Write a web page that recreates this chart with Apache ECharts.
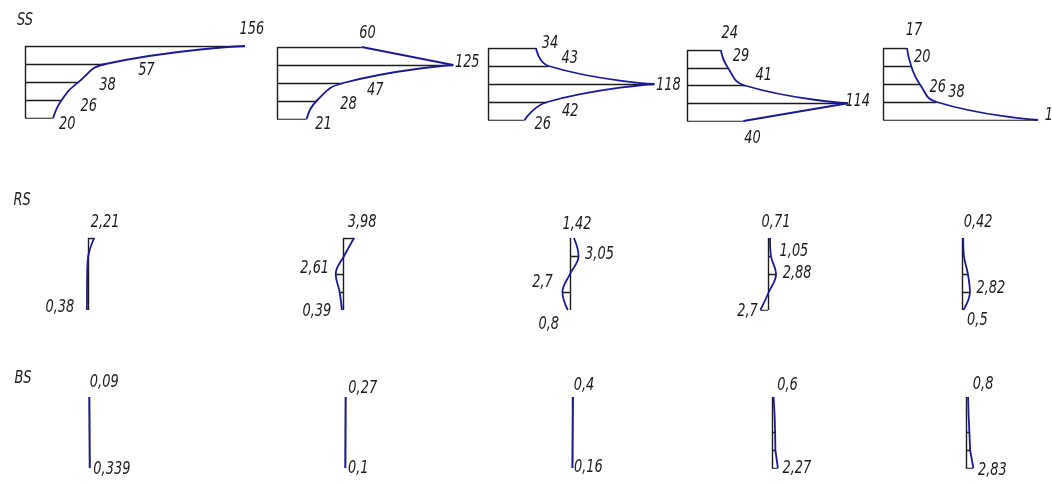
<!DOCTYPE html>
<html>
<head>
<meta charset="utf-8">
<script src="https://cdn.jsdelivr.net/npm/echarts@6/dist/echarts.min.js"></script>
<style>
  html, body { margin: 0; padding: 0; background: #ffffff; }
  #chart { width: 1052px; height: 485px; }
</style>
</head>
<body>
<div id="chart"></div>
<script>
// Five sections, each profile sampled at five depth levels (0 = top, 4 = bottom)
const levels = [0, 1, 2, 3, 4];

// SS profiles
const ssValues = [
  [156, 57, 38, 26, 20],
  [60, 125, 47, 28, 21],
  [34, 43, 118, 42, 26],
  [24, 29, 41, 114, 40],
  [17, 20, 26, 38, 110]
];
// RS profiles (negative = drawn to the left of the axis)
const rsValues = [
  [2.21, 0.1, -0.3, -0.35, -0.38],
  [3.98, 0.4, -2.61, -1.2, -0.39],
  [1.42, 3.05, 0, -2.7, -0.8],
  [0.71, 1.05, 2.88, 0.3, -2.7],
  [0.42, 0.7, 2.1, 2.82, 0.5]
];
// BS profiles (null = level not sampled)
const bsValues = [
  [0.09, null, null, null, 0.339],
  [0.27, null, null, null, 0.1],
  [0.4, null, null, null, 0.16],
  [0.6, 1.0, 1.2, 1.3, 2.27],
  [0.8, 1.0, 1.3, 1.6, 2.83]
];

// Levels whose value is written next to the profile
const ssLabelled = [[0, 1, 2, 3, 4], [0, 1, 2, 3, 4], [0, 1, 2, 3, 4], [0, 1, 2, 3, 4], [0, 1, 2, 3, 4]];
const rsLabelled = [[0, 4], [0, 2, 4], [0, 1, 3, 4], [0, 1, 2, 4], [0, 3, 4]];
const bsLabelled = [[0, 4], [0, 4], [0, 4], [0, 4], [0, 4]];

// Levels that get a black ordinate line
const ssTicks = [[0, 1, 2, 3, 4], [0, 1, 2, 3, 4], [0, 1, 2, 3, 4], [0, 1, 2, 3, 4], [0, 1, 2, 3, 4]];
const rsTicks = [[0], [0, 2, 3], [1, 3], [1, 2, 4], [2, 3]];
const bsTicks = [[], [], [], [2, 3, 4], [2, 3, 4]];

const rowTitles = ['SS', 'RS', 'BS'];

// ---- layout ----
const FONT = 'italic 18px "Liberation Sans Narrow", "DejaVu Sans Condensed", "Arial Narrow", sans-serif';
const TEXT_SQUEEZE = 0.8;
const BLUE = '#1a1a96';
const INK = '#1c1c1c';

const rows = [
  {
    values: ssValues, labelled: ssLabelled, ticks: ssTicks, split: true, smooth: 0.5, symmetric: false,
    axisX: [25, 277, 488, 687, 883], top: [46, 47, 48, 50, 48], height: [72, 72, 72, 71, 72],
    scale: 1.41,
    offsets: [
      [[7, -17], [41, 6], [29, 3], [27, 6], [14, 6]],
      [[6, -14], [14, -3], [32, 7], [32, 3], [17, 5]],
      [[14, -5], [21, -8], [14, 1], [23, 9], [18, 4]],
      [[9, -17], [13, -11], [19, -10], [10, -2], [9, 17]],
      [[7, -18], [11, -9], [18, 3], [20, -10], [19, -5]]
    ],
    title: [25, 20]
  },
  {
    values: rsValues, labelled: rsLabelled, ticks: rsTicks, split: false, smooth: 0.4, symmetric: true,
    axisX: [88, 343, 570, 768, 962], top: [238, 238, 238, 238, 238], height: [72, 72, 72, 72, 72],
    scale: 2.8,
    offsets: [
      [[11, -16], [-27, -3]],
      [[8, -16], [-21, -6], [-25, 1]],
      [[3, -14], [21, -2], [-20, -10], [-19, 14]],
      [[6, -16], [23, -5], [21, -1], [-13, 1]],
      [[15, -16], [21, -4], [14, 10]]
    ],
    title: [22, 200]
  },
  {
    values: bsValues, labelled: bsLabelled, ticks: bsTicks, split: false, smooth: false, symmetric: true,
    axisX: [89, 345, 572, 772, 966], top: [397, 397, 397, 397, 397], height: [71, 71, 71, 71, 71],
    scale: 2.6,
    offsets: [
      [[15, -15], [22, 1]],
      [[17, -9], [13, 0]],
      [[11, -12], [16, -1]],
      [[14, -12], [19, 0]],
      [[15, -13], [19, 2]]
    ],
    title: [23, 378]
  }
];

function fmt(v) {
  return String(Math.abs(v)).replace('.', ',');
}

function textEl(x, y, text) {
  return {
    type: 'text', x: x, y: y, scaleX: TEXT_SQUEEZE,
    style: { text: text, font: FONT, fill: INK, align: 'center', verticalAlign: 'middle' }
  };
}

const grids = [], xAxes = [], yAxes = [], series = [];

rows.forEach((row, r) => {
  row.values.forEach((vals, p) => {
    const k = grids.length;
    const present = vals.filter(v => v != null);
    const max = Math.max(...present.map(Math.abs));
    const min = row.symmetric ? -max : 0;
    grids.push({
      left: row.axisX[p] + min * row.scale,
      top: row.top[p],
      width: (max - min) * row.scale,
      height: row.height[p]
    });
    xAxes.push({ type: 'value', gridIndex: k, min: min, max: max, show: false });
    yAxes.push({ type: 'value', gridIndex: k, min: 0, max: 4, inverse: true, show: false });

    // black frame: vertical axis plus ordinates at the marked levels
    const frame = [{ coords: [[0, levels[0]], [0, levels[4]]] }];
    row.ticks[p].forEach(i => {
      if (vals[i] != null) frame.push({ coords: [[0, levels[i]], [vals[i], levels[i]]] });
    });
    series.push({
      type: 'lines', coordinateSystem: 'cartesian2d', xAxisIndex: k, yAxisIndex: k,
      data: frame, silent: true, z: 2,
      lineStyle: { color: INK, width: 1.4, opacity: 1, curveness: 0 }
    });

    // blue profile curve
    const pts = levels.map(i => [vals[i], levels[i]]).filter(d => d[0] != null);
    let branches = [pts];
    if (row.split) {
      let peak = 0;
      vals.forEach((v, i) => { if (v > vals[peak]) peak = i; });
      branches = [pts.slice(0, peak + 1), pts.slice(peak)].filter(b => b.length > 1);
    }
    branches.forEach(b => {
      series.push({
        type: 'line', xAxisIndex: k, yAxisIndex: k, data: b,
        smooth: row.smooth, symbol: 'none', clip: false, silent: true, z: 3,
        lineStyle: { color: BLUE, width: 1.8 }
      });
    });

    // value labels
    const offs = row.offsets[p];
    series.push({
      type: 'custom', xAxisIndex: k, yAxisIndex: k, clip: false, silent: true, z: 4,
      data: row.labelled[p].map(i => [vals[i], levels[i]]),
      renderItem: (params, api) => {
        const c = api.coord([api.value(0), api.value(1)]);
        const o = offs[params.dataIndex];
        return textEl(c[0] + o[0], c[1] + o[1], fmt(api.value(0)));
      }
    });
  });
});

const graphics = rows.map((row, r) => textEl(row.title[0], row.title[1], rowTitles[r]));

const chart = echarts.init(document.getElementById('chart'), null, { renderer: 'canvas' });
chart.setOption({
  animation: false,
  backgroundColor: '#ffffff',
  grid: grids,
  xAxis: xAxes,
  yAxis: yAxes,
  graphic: graphics,
  series: series
});
</script>
</body>
</html>
